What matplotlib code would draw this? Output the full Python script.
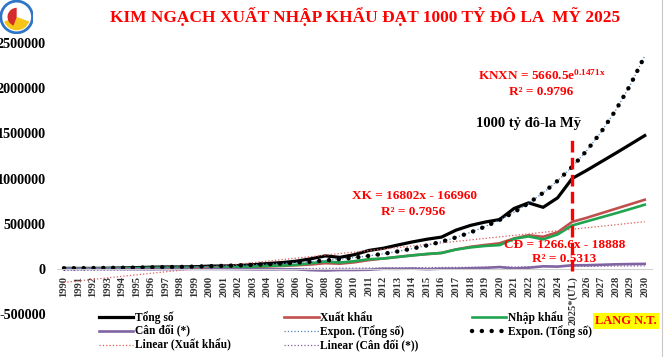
import numpy as np
import matplotlib
matplotlib.use('Agg')
import matplotlib.pyplot as plt
from matplotlib.patches import Circle, Wedge

plt.rcParams['font.family'] = ['Liberation Serif', 'DejaVu Serif']
plt.rcParams['font.weight'] = 'bold'
plt.rcParams['mathtext.fontset'] = 'custom'
plt.rcParams['mathtext.rm'] = 'Liberation Serif:bold'
plt.rcParams['mathtext.bf'] = 'Liberation Serif:bold'
plt.rcParams['mathtext.it'] = 'Liberation Serif:bold'

# triệu USD
years = [str(y) for y in range(1990, 2031)]
years[35] = '2025*(ƯL)'

tong_so = [5156, 4425, 5122, 6909, 9880, 13604, 18400, 20777, 20860, 23283,
           30120, 31247, 36452, 45405, 58454, 69208, 84717, 111326, 143399, 127045,
           157076, 203656, 228309, 264066, 298066, 327793, 351385, 428334, 480939, 517582,
           545320, 668560, 730200, 681100, 786300, 1000000, 1090000, 1185000, 1280000, 1377000,
           1475000]
xuat_khau = [2404, 2087, 2581, 2985, 4054, 5449, 7256, 9185, 9360, 11541,
             14483, 15029, 16706, 20149, 26485, 32447, 39826, 48561, 62685, 57096,
             72237, 96906, 114529, 132033, 150217, 162017, 176581, 215119, 243697, 264189,
             282629, 336310, 371300, 354700, 405500, 520000, 565000, 615000, 665000, 715000,
             765000]
nhap_khau = [2752, 2338, 2541, 3924, 5826, 8155, 11144, 11592, 11500, 11742,
             15637, 16218, 19746, 25256, 31969, 36761, 44891, 62765, 80714, 69949,
             84839, 106750, 113780, 132033, 147849, 165776, 174804, 213215, 237242, 253393,
             262691, 332250, 358900, 326400, 380800, 480000, 525000, 570000, 615000, 662000,
             710000]
can_doi = [-348, -251, 40, -939, -1772, -2706, -3888, -2407, -2140, -201,
           -1154, -1189, -3040, -5107, -5484, -4314, -5065, -14204, -18029, -12853,
           -12602, -9844, 749, 0, 2368, -3759, 1777, 1904, 6455, 10796,
           19938, 4060, 12400, 28300, 24700, 40000, 40000, 45000, 50000, 53000,
           55000]

# hệ số đường xu hướng (đọc trên hình)
knxn_a, knxn_b = 5660.5, 0.1471
xk_slope, xk_icpt = 16802, -166960
cd_slope, cd_icpt = 1266.6, -18888

x = np.arange(len(years))
t = x + 1
expon = knxn_a * np.exp(knxn_b * t)
lin_xk = xk_slope * t + xk_icpt
lin_cd = cd_slope * t + cd_icpt

fig = plt.figure(figsize=(6.67, 3.57), dpi=100)
ax = fig.add_axes([0.0851, 0.1204, 0.8924, 0.7592])

for s in ['top', 'right', 'left']:
    ax.spines[s].set_visible(False)
ax.spines['bottom'].set_position(('data', 0))
ax.spines['bottom'].set_color('#d0d0d0')
ax.spines['bottom'].set_linewidth(0.8)

l_tong, = ax.plot(x, tong_so, color='black', lw=2.3, label='Tổng số')
l_xk, = ax.plot(x, xuat_khau, color='#C0504D', lw=1.9, label='Xuất khẩu')
l_nk, = ax.plot(x, nhap_khau, color='#1FA550', lw=1.9, label='Nhập khẩu')
l_cd, = ax.plot(x, can_doi, color='#8064A2', lw=1.9, label='Cân đối (*)')
l_lxk, = ax.plot(x, lin_xk, color='#E05A5A', lw=0.9, ls=':', label='Linear (Xuất khẩu)')
l_lcd, = ax.plot(x, lin_cd, color='#8064A2', lw=0.9, ls=':', label='Linear (Cân đối (*))')
l_eb, = ax.plot(x, expon, color='#4F81BD', lw=0.9, ls=':', label='Expon. (Tổng số)')
l_ek, = ax.plot(x, expon, color='black', lw=3.2, ls=(0, (0.01, 2.2)),
                dash_capstyle='round', label='Expon. (Tổng số)')

ax.vlines(35, -20000, 1460000, colors='#FF0000', lw=2.4, linestyles=(0, (3.5, 1.6)), zorder=5)

ax.set_xlim(-0.5, len(years) - 0.5)
ax.set_ylim(-500000, 2500000)
ax.set_yticks(np.arange(-500000, 2500001, 500000))
ax.set_yticklabels([str(v) for v in range(-500000, 2500001, 500000)])
ax.set_xticks(x)
ax.set_xticklabels(years)
ax.tick_params(axis='y', length=0, pad=8, labelsize=10.2)
ax.tick_params(axis='x', length=0, pad=5, labelrotation=90, labelsize=7.6,
               labelcolor='#333333')

red = '#FF0000'
ax.text(0.812, 0.790, 'KNXN = 5660.5e$^{0.1471x}$', transform=fig.transFigure, color=red,
        fontsize=9.5, ha='center', va='center')
ax.text(0.812, 0.742, 'R² = 0.9796', transform=fig.transFigure, color=red,
        fontsize=9.5, ha='center', va='center')
ax.text(0.793, 0.655, '1000 tỷ đô-la Mỹ', transform=fig.transFigure, color='black',
        fontsize=10.5, ha='center', va='center')
ax.text(0.621, 0.451, 'XK = 16802x - 166960', transform=fig.transFigure, color=red,
        fontsize=9.5, ha='center', va='center')
ax.text(0.619, 0.406, 'R² = 0.7956', transform=fig.transFigure, color=red,
        fontsize=9.5, ha='center', va='center')
ax.text(0.846, 0.314, 'CĐ = 1266.6x - 18888', transform=fig.transFigure, color=red,
        fontsize=9.5, ha='center', va='center')
ax.text(0.846, 0.275, 'R² = 0.5313', transform=fig.transFigure, color=red,
        fontsize=9.5, ha='center', va='center')

fig.text(0.547, 0.955, 'KIM NGẠCH XUẤT NHẬP KHẨU ĐẠT 1000 TỶ ĐÔ LA  MỸ 2025',
         color=red, fontsize=12.5, ha='center', va='center')

fig.text(0.938, 0.101, 'LANG N.T.', color=red, fontsize=9, ha='center', va='center',
         bbox=dict(facecolor='#FFFF00', edgecolor='none', pad=1.5))

handles = [l_tong, l_cd, l_lxk, l_xk, l_eb, l_lcd, l_nk, l_ek]
fig.legend(handles=handles, labels=[h.get_label() for h in handles], ncol=3,
           loc='upper left', bbox_to_anchor=(0.148, 0.128), frameon=False,
           fontsize=8.3, handlelength=3.0, handletextpad=0.15, columnspacing=4.6,
           labelspacing=0.12, borderpad=0, borderaxespad=0)

# logo
logo = fig.add_axes([0.0, 0.905, 0.05, 0.095])
logo.set_xlim(-1, 1)
logo.set_ylim(-1, 1)
logo.set_aspect('equal')
logo.axis('off')
logo.add_patch(Circle((0, 0), 0.95, facecolor='white', edgecolor='#2F75C7', lw=2))
logo.add_patch(Wedge((0, 0), 0.8, 200, 340, facecolor='#F5C518', edgecolor='none'))
logo.add_patch(Wedge((0, 0), 0.55, 90, 250, facecolor='#D42C2C', edgecolor='none'))

fig.add_artist(plt.Line2D([0.993, 0.993], [0.0, 1.0], color='#c8c8c8', lw=0.8,
                          transform=fig.transFigure))

fig.savefig('out.png', dpi=100)
